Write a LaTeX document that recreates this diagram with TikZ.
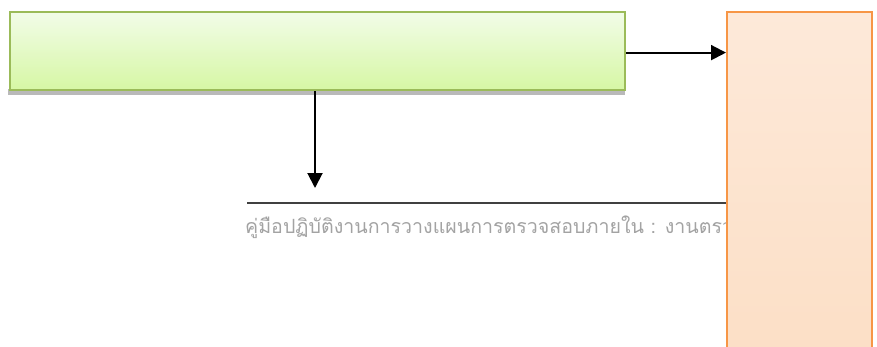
\documentclass[tikz,border=0pt]{standalone}
\usepackage{fontspec}
\newfontfamily\thaifont[Script=Thai]{Loma}
\usetikzlibrary{arrows.meta,positioning}
\definecolor{leafedge}{HTML}{9BBB59}
\definecolor{leaftop}{HTML}{F2FCE8}
\definecolor{leafbot}{HTML}{D6F7A4}
\definecolor{peachedge}{HTML}{F79646}
\definecolor{peachtop}{HTML}{FDE9D9}
\definecolor{peachbot}{HTML}{FCDFC6}
\definecolor{footgray}{HTML}{A3A3A3}
\tikzset{
  greenbox/.style={draw=leafedge, line width=2.2pt, top color=leaftop, bottom color=leafbot,
    minimum width=615pt, minimum height=78pt, inner sep=0pt, anchor=north west},
  peachbox/.style={draw=peachedge, line width=2.2pt, top color=peachtop, bottom color=peachbot,
    minimum width=145pt, minimum height=345pt, inner sep=0pt, anchor=north west},
  link/.style={draw=black, line width=2pt, -{Triangle[length=15pt,width=15pt]}},
  footer/.style={font=\thaifont\fontsize{19.6pt}{22pt}\selectfont, text=footgray,
    anchor=base west, inner sep=0pt},
}
\begin{document}
\begin{tikzpicture}[x=1pt,y=-1pt]
  \useasboundingbox (0,0) rectangle (877,346);
  % running footer rule and caption
  \draw[line width=1.2pt, black!75] (247,203) -- (727,203);
  \node[footer] (cap) at (245,233) {คู่มือปฏิบัติงานการวางแผนการตรวจสอบภายใน : งานตรวจสอบภายใน};
  % shadow strip under the green box
  \fill[gray!55] (8,89) rectangle (625,95);
  \node[greenbox] (top) at (9,11) {};
  \node[peachbox] (side) at (726,11) {};
  \coordinate (drop) at (315,188);
  \draw[link] (top.south -| drop) -- (drop);
  \draw[link] ([yshift=-1.5pt]top.east) -- ([yshift=-1.5pt]top.east -| side.west);
\end{tikzpicture}
\end{document}
